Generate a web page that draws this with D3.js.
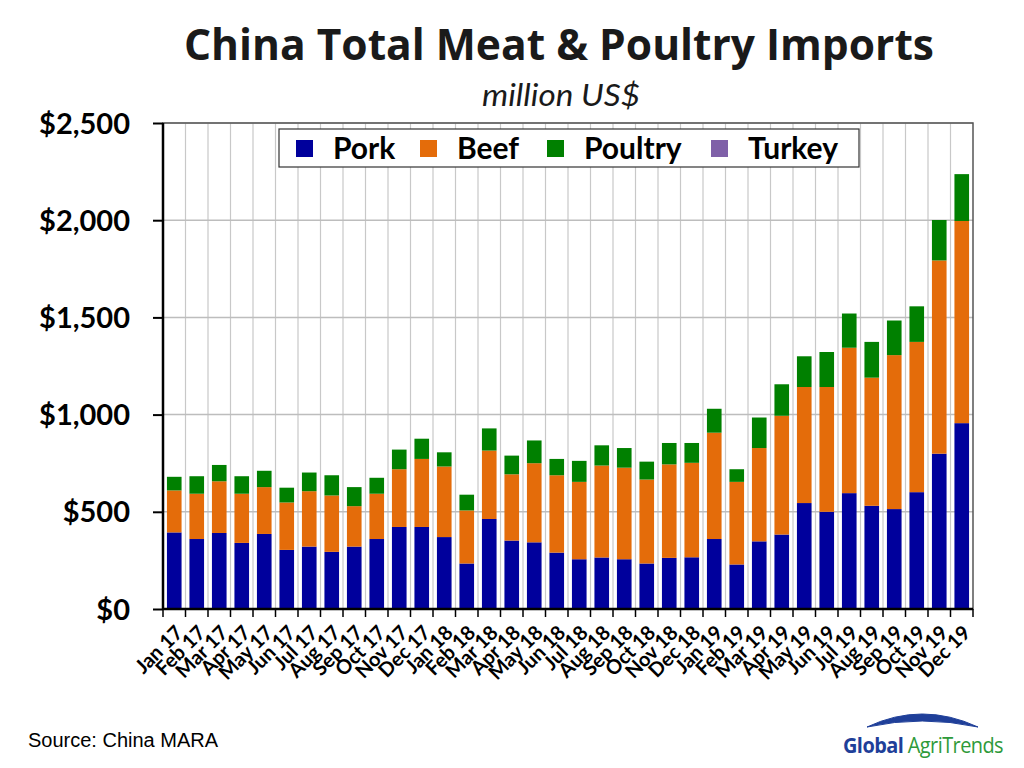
<!DOCTYPE html>
<html><head><meta charset="utf-8">
<script src="https://cdn.jsdelivr.net/npm/d3@7"></script>
<style>body{margin:0;background:#fff}svg{display:block}</style>
</head><body>
<svg id="c" width="1024" height="768"></svg>
<script>
const months = ["Jan 17","Feb 17","Mar 17","Apr 17","May 17","Jun 17","Jul 17","Aug 17","Sep 17","Oct 17","Nov 17","Dec 17",
"Jan 18","Feb 18","Mar 18","Apr 18","May 18","Jun 18","Jul 18","Aug 18","Sep 18","Oct 18","Nov 18","Dec 18",
"Jan 19","Feb 19","Mar 19","Apr 19","May 19","Jun 19","Jul 19","Aug 19","Sep 19","Oct 19","Nov 19","Dec 19"];
const pork = [394,360,391,340,386,304,321,294,321,360,422,422,
370,234,463,352,343,290,256,265,256,234,263,266,
360,229,348,383,545,500,596,531,514,601,799,956];
const beef = [216,233,266,253,241,244,285,290,208,233,297,350,
363,273,352,341,407,398,398,473,471,432,481,486,
547,425,480,611,597,642,748,659,792,773,994,1040];
const poultry = [70,90,84,90,84,76,96,104,98,82,101,104,
73,81,114,96,117,84,108,104,101,92,110,102,
123,65,157,162,158,180,176,184,178,183,208,241];
const turkey = [0,0,0,0,0,0,0,0,0,0,0,0,0,0,0,0,0,0,0,0,0,0,0,0,0,0,0,0,0,0,0,0,0,0,0,0];
const seriesNames = ["Pork","Beef","Poultry","Turkey"];
const seriesColors = ["#00009C","#E46C0A","#008000","#7F60A8"];
const yTicks = [0,500,1000,1500,2000,2500];

const svg = d3.select("#c");
const L=163, R=973, T=123, B=609;
const FONT = "Lato, 'Open Sans', sans-serif";

const x = d3.scaleBand().domain(months).range([L,R]).paddingInner(0.35).paddingOuter(0.175);
const y = d3.scaleLinear().domain([0,2500]).range([B,T]);

// grid
const step = (R-L)/months.length;
const g = svg.append("g");
g.selectAll("line.v").data(d3.range(1,months.length)).join("line")
 .attr("x1",i=>L+i*step).attr("x2",i=>L+i*step).attr("y1",T).attr("y2",B)
 .attr("stroke","#c8c8c8").attr("stroke-width",1.2);
g.selectAll("line.h").data(yTicks.slice(1)).join("line")
 .attr("x1",L).attr("x2",R).attr("y1",d=>y(d)).attr("y2",d=>y(d))
 .attr("stroke","#bdbdbd").attr("stroke-width",1.5);

// stacked bars
const rows = months.map((m,i)=>({m, Pork:pork[i], Beef:beef[i], Poultry:poultry[i], Turkey:turkey[i]}));
const stack = d3.stack().keys(seriesNames)(rows);
svg.append("g").selectAll("g").data(stack).join("g")
 .attr("fill",(d,i)=>seriesColors[i])
 .selectAll("rect").data(d=>d).join("rect")
 .attr("x",d=>x(d.data.m)).attr("width",x.bandwidth())
 .attr("y",d=>y(d[1])).attr("height",d=>y(d[0])-y(d[1]));

// frame
svg.append("rect").attr("x",L).attr("y",T).attr("width",R-L).attr("height",B-T)
 .attr("fill","none").attr("stroke","#555").attr("stroke-width",1.5);
svg.append("line").attr("x1",L).attr("x2",L).attr("y1",T).attr("y2",B).attr("stroke","#000").attr("stroke-width",2.5);
svg.append("line").attr("x1",L).attr("x2",R).attr("y1",B).attr("y2",B).attr("stroke","#000").attr("stroke-width",2.5);

// y axis
const ya = svg.append("g").attr("transform",`translate(${L},0)`)
 .call(d3.axisLeft(y).tickValues(yTicks).tickSize(10).tickFormat(d=>"$"+d3.format(",")(d)));
ya.select(".domain").remove();
ya.selectAll("line").attr("stroke","#000").attr("stroke-width",2);
ya.selectAll("text").attr("font-family",FONT).attr("font-weight","bold").attr("font-size",29)
 .attr("fill","#000").attr("x",-33).attr("dy","0.35em");

// x ticks at boundaries
svg.append("g").selectAll("line").data(d3.range(0,months.length+1)).join("line")
 .attr("x1",i=>L+i*step).attr("x2",i=>L+i*step).attr("y1",B).attr("y2",B+8)
 .attr("stroke","#000").attr("stroke-width",1.5);

// x labels
const xa = svg.append("g").attr("transform",`translate(0,${B})`).call(d3.axisBottom(x).tickSize(0));
xa.select(".domain").remove();
xa.selectAll("text").attr("font-family",FONT).attr("font-weight","bold").attr("font-size",20)
 .attr("fill","#000").attr("text-anchor","end").attr("dy","0.35em").attr("y",0)
 .attr("transform","translate(5,20) rotate(-45)");

// title
svg.append("text").attr("x",559).attr("y",60).attr("text-anchor","middle")
 .attr("font-family","'Open Sans', Lato, sans-serif").attr("font-weight","bold").attr("font-size",43).attr("fill","#1a1a1a")
 .attr("textLength",750).attr("lengthAdjust","spacingAndGlyphs")
 .text("China Total Meat & Poultry Imports");
svg.append("text").attr("x",561).attr("y",106).attr("text-anchor","middle")
 .attr("font-family",FONT).attr("font-style","italic").attr("font-size",30).attr("fill","#1a1a1a")
 .attr("textLength",158).attr("lengthAdjust","spacingAndGlyphs")
 .text("million US$");

// legend
const lg = svg.append("g");
lg.append("rect").attr("x",279).attr("y",129).attr("width",580).attr("height",38)
 .attr("fill","#fff").attr("stroke","#333").attr("stroke-width",1.2);
const lx = [296,420,547,711];
seriesNames.forEach((n,i)=>{
  lg.append("rect").attr("x",lx[i]).attr("y",140).attr("width",17).attr("height",17).attr("fill",seriesColors[i]);
  lg.append("text").attr("x",lx[i]+37).attr("y",159).attr("font-family",FONT).attr("font-weight","bold")
   .attr("font-size",30).attr("fill","#000").text(n);
});

// source
svg.append("text").attr("x",28).attr("y",747).attr("font-family","'Liberation Sans', Arial, sans-serif")
 .attr("font-size",20).attr("fill","#000").text("Source:  China MARA");

// logo
const lo = svg.append("g");
lo.append("path").attr("d","M867,727 Q922,701 978,727 Q922,715 867,727 Z").attr("fill","#1F3F99").attr("stroke","#1F3F99").attr("stroke-width",1);
const lt = lo.append("text").attr("x",843).attr("y",753).attr("font-family","'Open Sans', sans-serif").attr("font-size",21).attr("letter-spacing",-0.6)
 .attr("textLength",160).attr("lengthAdjust","spacingAndGlyphs");
lt.append("tspan").attr("font-weight","bold").attr("fill","#1F3F99").text("Global ");
lt.append("tspan").attr("fill","#2E9A3A").text("AgriTrends");
</script>
</body></html>
